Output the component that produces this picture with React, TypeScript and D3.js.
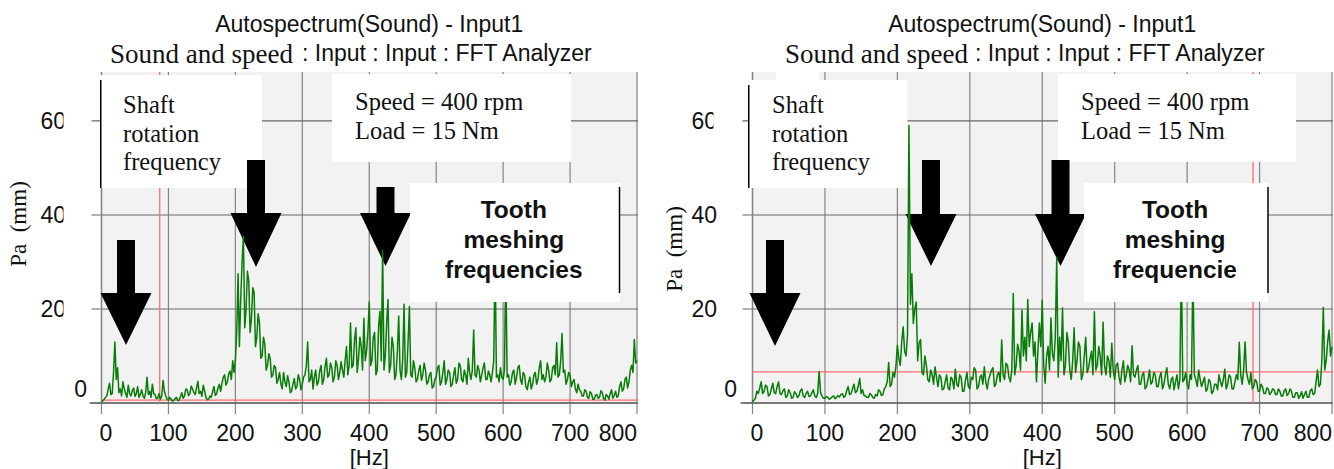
import React from 'react';
import * as d3 from 'd3';

const SANS = '"Liberation Sans", Arial, Helvetica, sans-serif';
const SERIF = '"Liberation Serif", "Times New Roman", serif';

// chart texts
const titleText = 'Autospectrum(Sound) - Input1';
const subtitleSerif = 'Sound and speed';
const subtitleSans = ': Input : Input : FFT Analyzer';
const xTitle = '[Hz]';
const yTitle = 'Pa  (mm)';
const shaftLines = ['Shaft', 'rotation', 'frequency'];
const conditionLines = ['Speed = 400 rpm', 'Load = 15 Nm'];
const toothLinesLeft = ['Tooth', 'meshing', 'frequencies'];
const toothLinesRight = ['Tooth', 'meshing', 'frequencie'];

const xTicks = [0, 100, 200, 300, 400, 500, 600, 700, 800];
const yTicks = [0, 20, 40, 60];
const binHz = 2; // spectrum line spacing

// autospectrum amplitude, one value per 2 Hz line, 0..800 Hz
const leftSpectrum = [
  0.3, 0.5, 0.8, 1.2, 1.5, 3.0, 4.2, 1.8, 2.0, 6.5, 13.0, 5.0, 7.5, 2.2, 3.0, 1.5, 4.5, 3.0, 2.0, 1.2,
  3.8, 2.0, 1.5, 2.6, 3.2, 1.4, 2.0, 3.5, 1.2, 1.8, 2.8, 1.5, 1.0, 2.2, 5.5, 1.8, 2.5, 1.2, 4.0, 2.0,
  1.8, 0.9, 1.0, 2.0, 0.8, 1.5, 4.8, 2.5, 1.5, 0.8, 0.6, 1.2, 0.8, 0.4, 0.5, 1.0, 1.2, 0.5, 0.6, 1.4,
  2.2, 1.0, 1.5, 3.0, 2.8, 1.6, 2.0, 3.6, 3.0, 2.2, 1.8, 3.2, 4.6, 2.0, 2.5, 1.4, 3.8, 2.6, 1.2, 0.7,
  0.8, 1.5, 1.2, 2.4, 3.5, 1.6, 2.0, 3.2, 4.0, 2.5, 4.2, 5.5, 6.0, 3.8, 4.5, 6.2, 6.8, 5.0, 9.0, 6.5,
  9.0, 15.0, 27.5, 12.0, 22.0, 30.0, 35.5, 16.0, 20.0, 28.0, 26.0, 15.0, 18.0, 24.5, 23.5, 12.0, 14.0, 19.0, 17.0, 9.5,
  10.0, 14.0, 12.5, 7.0, 8.0, 10.5, 9.5, 5.5, 6.0, 8.0, 7.5, 4.2, 5.0, 6.5, 4.0, 3.0, 6.5, 4.5, 3.5, 5.8,
  4.5, 2.2, 2.5, 4.0, 5.2, 3.0, 3.5, 6.0, 5.0, 2.8, 4.0, 5.5, 6.0, 8.0, 13.0, 4.5, 5.0, 7.0, 3.0, 5.5,
  7.0, 3.8, 4.5, 6.8, 8.0, 4.0, 5.0, 7.8, 9.5, 5.5, 6.0, 8.5, 7.5, 4.5, 5.5, 9.0, 8.0, 5.0, 6.5, 8.8,
  7.0, 5.5, 9.0, 12.0, 6.0, 8.0, 17.0, 7.5, 8.0, 13.5, 16.0, 6.5, 9.5, 14.0, 12.0, 7.0, 18.0, 9.0, 11.0, 15.0,
  21.5, 8.0, 9.0, 14.0, 15.0, 6.0, 7.0, 16.5, 19.5, 9.0, 32.5, 7.0, 10.0, 17.0, 22.0, 6.5, 8.0, 14.0, 12.0, 5.0,
  6.0, 11.0, 18.5, 7.0, 5.0, 9.5, 21.0, 5.5, 6.5, 13.0, 20.5, 6.0, 5.5, 9.0, 7.5, 4.5, 5.0, 7.0, 8.0, 4.8,
  6.0, 8.5, 7.0, 4.0, 4.5, 6.0, 6.5, 3.2, 3.5, 5.0, 5.5, 7.5, 8.0, 3.8, 4.5, 6.5, 9.0, 4.0, 5.0, 7.0,
  6.5, 3.5, 4.0, 6.0, 7.5, 4.2, 5.0, 8.5, 8.0, 5.0, 4.5, 7.0, 6.0, 4.0, 9.5, 6.5, 5.0, 7.0, 15.5, 6.0,
  5.5, 8.0, 7.0, 4.5, 6.0, 7.5, 8.5, 5.0, 5.0, 6.8, 6.0, 4.5, 6.5, 9.0, 32.0, 5.5, 6.0, 4.5, 7.5, 5.5,
  5.0, 7.0, 30.0, 5.5, 6.0, 3.8, 4.5, 6.5, 7.0, 4.0, 5.5, 7.5, 8.0, 5.0, 4.0, 6.5, 6.0, 3.5, 2.8, 4.5,
  5.5, 3.0, 4.0, 6.0, 6.5, 4.0, 5.0, 7.5, 9.0, 5.0, 6.0, 4.5, 5.5, 8.5, 7.0, 4.5, 5.0, 7.5, 8.0, 6.0,
  12.8, 5.5, 6.0, 9.0, 14.8, 6.5, 7.0, 4.0, 5.0, 6.5, 6.0, 3.5, 4.5, 5.0, 3.0, 2.2, 4.0, 2.8, 2.5, 1.5,
  1.5, 2.8, 2.5, 1.2, 1.0, 2.4, 2.0, 0.8, 0.8, 1.6, 1.8, 1.0, 1.2, 2.6, 2.2, 1.0, 0.6, 1.8, 1.5, 0.8,
  2.0, 2.8, 1.0, 1.6, 2.5, 1.2, 1.5, 3.5, 4.5, 2.5, 3.0, 5.0, 5.5, 3.2, 4.5, 7.0, 8.0, 6.5, 13.5, 8.5,
  9.0,
];

const rightSpectrum = [
  0.3, 0.6, 1.0, 2.5, 2.0, 3.2, 4.5, 2.0, 2.5, 3.8, 3.5, 1.5, 1.8, 3.0, 4.2, 2.2, 2.0, 3.5, 4.5, 2.0,
  1.8, 2.6, 3.0, 1.2, 1.5, 2.8, 2.2, 1.0, 1.2, 2.4, 2.0, 1.2, 1.5, 2.6, 3.0, 1.5, 1.2, 2.0, 2.5, 1.4,
  1.5, 2.2, 2.8, 1.5, 1.2, 2.0, 6.7, 2.2, 1.5, 1.0, 1.0, 1.4, 1.2, 0.8, 1.0, 1.3, 1.5, 0.9, 1.2, 1.6,
  1.3, 1.8, 2.0, 1.2, 1.5, 2.6, 3.5, 1.8, 2.0, 3.0, 4.0, 2.2, 2.5, 3.6, 5.2, 2.0, 2.8, 1.6, 1.5, 1.2,
  1.2, 2.0, 1.8, 1.2, 1.0, 1.8, 1.5, 2.8, 2.5, 1.6, 1.8, 3.0, 3.5, 4.5, 8.6, 3.5, 4.0, 6.5, 5.5, 7.8,
  12.3, 9.5, 8.0, 13.0, 16.2, 11.0, 10.0, 14.5, 59.0, 21.0, 27.5, 16.9, 20.0, 21.5, 9.0, 12.7, 13.5, 6.5, 6.0, 10.0,
  8.0, 5.0, 4.5, 7.0, 6.0, 4.0, 7.7, 5.5, 3.5, 6.0, 5.5, 2.8, 3.0, 4.5, 6.0, 3.2, 2.8, 5.5, 5.0, 3.0,
  7.2, 4.0, 3.5, 6.0, 5.5, 2.5, 2.5, 4.8, 6.5, 3.5, 3.0, 5.5, 5.0, 7.5, 7.0, 3.0, 3.5, 5.5, 6.0, 4.0,
  7.7, 4.5, 3.0, 5.0, 6.0, 7.0, 7.5, 3.5, 4.0, 6.0, 6.5, 4.5, 13.4, 6.0, 5.0, 8.5, 8.0, 5.5, 4.5, 7.0,
  23.3, 6.0, 8.0, 12.5, 11.0, 7.0, 19.8, 10.0, 14.0, 9.0, 22.0, 12.0, 15.0, 17.0, 10.0, 13.0, 4.5, 11.0, 17.0, 12.0,
  21.9, 8.0, 4.2, 10.0, 12.0, 7.0, 18.1, 10.5, 9.0, 14.0, 31.0, 5.5, 14.0, 9.0, 20.2, 6.0, 8.0, 15.0, 13.0, 7.0,
  5.0, 9.0, 16.0, 6.5, 9.0, 13.0, 12.0, 5.0, 6.0, 10.0, 14.0, 6.5, 7.5, 9.5, 11.0, 6.0, 19.4, 7.0, 8.0, 12.0,
  10.0, 6.0, 17.2, 8.0, 6.0, 10.0, 9.0, 5.5, 12.7, 7.0, 5.0, 8.0, 8.5, 5.5, 4.0, 7.0, 9.0, 4.5, 6.0, 8.0,
  7.0, 4.5, 12.2, 6.0, 5.5, 7.0, 8.0, 4.0, 4.0, 6.0, 6.5, 3.0, 3.5, 5.0, 7.0, 4.0, 4.5, 6.5, 6.0, 3.5,
  3.5, 5.5, 6.5, 3.0, 4.0, 6.0, 7.5, 4.0, 3.0, 5.0, 5.5, 2.8, 4.5, 6.0, 3.0, 5.0, 30.0, 4.5, 5.0, 6.5,
  4.0, 3.0, 6.0, 5.0, 28.0, 6.0, 5.0, 3.5, 7.0, 5.0, 3.5, 4.5, 5.5, 2.5, 3.0, 5.0, 4.5, 2.0, 2.5, 4.0,
  4.0, 2.8, 6.0, 4.5, 3.5, 5.0, 7.2, 3.0, 4.0, 6.0, 5.5, 3.0, 3.0, 4.5, 6.0, 5.0, 12.9, 6.0, 4.0, 7.0,
  13.0, 6.5, 5.0, 4.0, 6.5, 3.0, 3.5, 5.0, 4.5, 2.5, 2.5, 4.0, 3.5, 2.0, 2.0, 3.2, 3.0, 1.8, 2.2, 3.0,
  2.8, 1.8, 1.8, 3.0, 2.5, 1.5, 1.5, 2.6, 3.0, 1.6, 2.0, 3.0, 2.5, 1.2, 1.2, 2.2, 2.2, 1.0, 1.5, 2.4,
  1.0, 1.8, 2.5, 1.2, 1.2, 2.6, 3.0, 1.8, 2.0, 4.5, 7.0, 3.5, 4.0, 9.0, 20.3, 7.0, 9.0, 13.0, 15.5, 10.0,
  12.0,
];

// red cursor lines: [frequency Hz, level]
const leftCursor = [87, 0.6];
const rightCursor = [691, 6.6];

const W = 1334;
const H = 469;
const TOP = 72;
const BOTTOM = 403;
const Y_MAX = 70.4;

type Arrow = { cx: number; shaftTop: number; headTop: number; tip: number };
type Box = { x: number; y: number; w: number; h: number };

type Layout = {
  id: string;
  x0: number;
  x1: number;
  spectrum: number[];
  cursor: number[];
  yLabelX: number;
  yLabelY: number;
  tickRight: number;
  zeroRight: number;
  clipAt: number;
  clipped: number[];
  subSerifX: number;
  subSansX: number;
  shaftBox: Box;
  shaftTextX: number;
  speedBox: Box;
  speedTextX: number;
  toothBox: Box;
  toothLines: string[];
  arrows: Arrow[];
  extraWhite?: Box;
};

const arrowPath = (a: Arrow) => {
  const s = 9;
  const h = 25.5;
  return `M${a.cx - s},${a.shaftTop}H${a.cx + s}V${a.headTop}H${a.cx + h}L${a.cx},${a.tip}L${a.cx - h},${a.headTop}H${a.cx - s}Z`;
};

const Panel = ({ L }: { L: Layout }) => {
  const x = d3.scaleLinear().domain([0, 800]).range([L.x0, L.x1]);
  const y = d3.scaleLinear().domain([0, Y_MAX]).range([BOTTOM, TOP]);
  const line = d3
    .line<number>()
    .x((_, i) => x(i * binHz))
    .y((d) => y(d));
  const cx = (L.x0 + L.x1) / 2;
  const plotRight = Math.min(L.x1 + 1, W);

  return (
    <g>
      <defs>
        <clipPath id={`lab-${L.id}`}>
          <rect x={0} y={0} width={L.clipAt} height={H} />
        </clipPath>
      </defs>

      {/* titles */}
      <text x={cx} y={32} textAnchor="middle" fontFamily={SANS} fontSize={23} fill="#111">
        {titleText}
      </text>
      <text x={L.subSerifX} y={63} fontFamily={SERIF} fontSize={27} fill="#111">
        {subtitleSerif}
      </text>
      <text x={L.subSansX} y={61} fontFamily={SANS} fontSize={23} fill="#111">
        {subtitleSans}
      </text>

      {/* plot area */}
      <rect x={L.x0} y={TOP} width={plotRight - L.x0} height={BOTTOM - TOP} fill="#f2f2f2" />
      {xTicks.map((t) => (
        <line key={`gx${t}`} x1={x(t)} x2={x(t)} y1={TOP} y2={BOTTOM + 11} stroke="#858585" strokeWidth={1.2} />
      ))}
      {yTicks.map((t) => (
        <line key={`gy${t}`} x1={L.x0 - 10} x2={plotRight} y1={y(t)} y2={y(t)} stroke="#666" strokeWidth={1.1} />
      ))}
      <line x1={L.x0} x2={L.x0} y1={TOP} y2={BOTTOM} stroke="#858585" strokeWidth={1.4} />
      <line x1={L.x0 - 12} x2={plotRight} y1={BOTTOM} y2={BOTTOM} stroke="#666" strokeWidth={1.6} />

      {/* cursors */}
      <line x1={x(L.cursor[0])} x2={x(L.cursor[0])} y1={TOP} y2={BOTTOM} stroke="#ff6b6b" strokeWidth={1.3} />
      <line x1={L.x0} x2={plotRight} y1={y(L.cursor[1])} y2={y(L.cursor[1])} stroke="#ff6b6b" strokeWidth={1.3} />

      {/* tick labels */}
      {yTicks.map((t) => (
        <text
          key={`ly${t}`}
          x={t === 0 ? L.zeroRight : L.tickRight}
          y={t === 0 ? y(t) - 6 : y(t) + 8}
          textAnchor="end"
          fontFamily={SANS}
          fontSize={23}
          fill="#111"
          clipPath={L.clipped.includes(t) ? `url(#lab-${L.id})` : undefined}
        >
          {t}
        </text>
      ))}
      {xTicks.map((t, i) => (
        <text
          key={`lx${t}`}
          x={x(t) + (i === 0 ? -2 : 0)}
          y={441}
          textAnchor={i === 0 ? 'start' : i === xTicks.length - 1 ? 'end' : 'middle'}
          fontFamily={SANS}
          fontSize={23}
          fill="#111"
        >
          {t}
        </text>
      ))}
      <text x={cx} y={465} textAnchor="middle" fontFamily={SANS} fontSize={22} fill="#111">
        {xTitle}
      </text>
      <text
        transform={`translate(${L.yLabelX},${L.yLabelY}) rotate(-90)`}
        textAnchor="middle"
        dominantBaseline="central"
        fontFamily={SERIF}
        fontSize={23}
        fill="#111"
        style={{ whiteSpace: 'pre' }}
      >
        {yTitle}
      </text>

      {/* annotation boxes behind the arrows */}
      <rect x={L.shaftBox.x} y={L.shaftBox.y} width={L.shaftBox.w} height={L.shaftBox.h} fill="#fff" />
      <line x1={L.shaftBox.x + 0.75} x2={L.shaftBox.x + 0.75} y1={L.shaftBox.y + 5} y2={L.shaftBox.y + L.shaftBox.h} stroke="#000" strokeWidth={1.5} />
      <rect x={L.speedBox.x} y={L.speedBox.y} width={L.speedBox.w} height={L.speedBox.h} fill="#fff" />
      {L.extraWhite && <rect x={L.extraWhite.x} y={L.extraWhite.y} width={L.extraWhite.w} height={L.extraWhite.h} fill="#fff" />}
      {shaftLines.map((s, i) => (
        <text key={s} x={L.shaftTextX} y={113 + i * 28.5} fontFamily={SERIF} fontSize={24.5} fill="#111">
          {s}
        </text>
      ))}
      {conditionLines.map((s, i) => (
        <text key={s} x={L.speedTextX} y={110 + i * 28.5} fontFamily={SERIF} fontSize={24.5} fill="#111">
          {s}
        </text>
      ))}

      {/* arrows */}
      {L.arrows.map((a, i) => (
        <path key={`ar${i}`} d={arrowPath(a)} fill="#000" />
      ))}

      {/* spectrum */}
      <path d={line(L.spectrum) || ''} fill="none" stroke="#077c07" strokeWidth={1.5} strokeLinejoin="round" />

      {/* tooth meshing box */}
      <rect x={L.toothBox.x} y={L.toothBox.y} width={L.toothBox.w} height={L.toothBox.h} fill="#fff" />
      <line
        x1={L.toothBox.x + L.toothBox.w}
        x2={L.toothBox.x + L.toothBox.w}
        y1={L.toothBox.y + 4}
        y2={L.toothBox.y + L.toothBox.h - 9}
        stroke="#000"
        strokeWidth={1.5}
      />
      {L.toothLines.map((s, i) => (
        <text
          key={s}
          x={L.toothBox.x + L.toothBox.w / 2 - 1}
          y={218 + i * 30}
          textAnchor="middle"
          fontFamily={SANS}
          fontWeight="bold"
          fontSize={24.5}
          fill="#111"
        >
          {s}
        </text>
      ))}
    </g>
  );
};

const leftLayout: Layout = {
  id: 'l',
  x0: 101.5,
  x1: 637,
  spectrum: leftSpectrum,
  cursor: leftCursor,
  yLabelX: 18,
  yLabelY: 224,
  tickRight: 66,
  zeroRight: 87,
  clipAt: 63.5,
  clipped: [20, 40, 60],
  subSerifX: 110,
  subSansX: 302,
  shaftBox: { x: 100, y: 75, w: 162, h: 113 },
  shaftTextX: 123,
  speedBox: { x: 332, y: 74, w: 239, h: 88 },
  speedTextX: 355,
  toothBox: { x: 410, y: 183, w: 209.5, h: 119 },
  toothLines: toothLinesLeft,
  arrows: [
    { cx: 126, shaftTop: 240, headTop: 293, tip: 345 },
    { cx: 256, shaftTop: 160, headTop: 213, tip: 267 },
    { cx: 385.5, shaftTop: 187, headTop: 213, tip: 266 },
  ],
};

const rightLayout: Layout = {
  id: 'r',
  x0: 752.5,
  x1: 1332,
  spectrum: rightSpectrum,
  cursor: rightCursor,
  yLabelX: 674,
  yLabelY: 249,
  tickRight: 717,
  zeroRight: 737,
  clipAt: 713.5,
  clipped: [60],
  subSerifX: 785,
  subSansX: 975,
  shaftBox: { x: 748, y: 80, w: 159.5, h: 108 },
  shaftTextX: 772,
  speedBox: { x: 1058, y: 74, w: 238, h: 88 },
  speedTextX: 1081,
  toothBox: { x: 1084, y: 183, w: 184, h: 119 },
  toothLines: toothLinesRight,
  arrows: [
    { cx: 775, shaftTop: 240, headTop: 293, tip: 346 },
    { cx: 931, shaftTop: 160, headTop: 214, tip: 266 },
    { cx: 1060.5, shaftTop: 160, headTop: 214, tip: 266 },
  ],
  extraWhite: { x: 776, y: 72, w: 43, h: 8 },
};

export default function App() {
  return (
    <svg
      width={W}
      height={H}
      viewBox={`0 0 ${W} ${H}`}
      style={{ position: 'absolute', left: 0, top: 0, background: '#fff' }}
    >
      <rect x={0} y={0} width={W} height={H} fill="#fff" />
      <Panel L={leftLayout} />
      <Panel L={rightLayout} />
    </svg>
  );
}
